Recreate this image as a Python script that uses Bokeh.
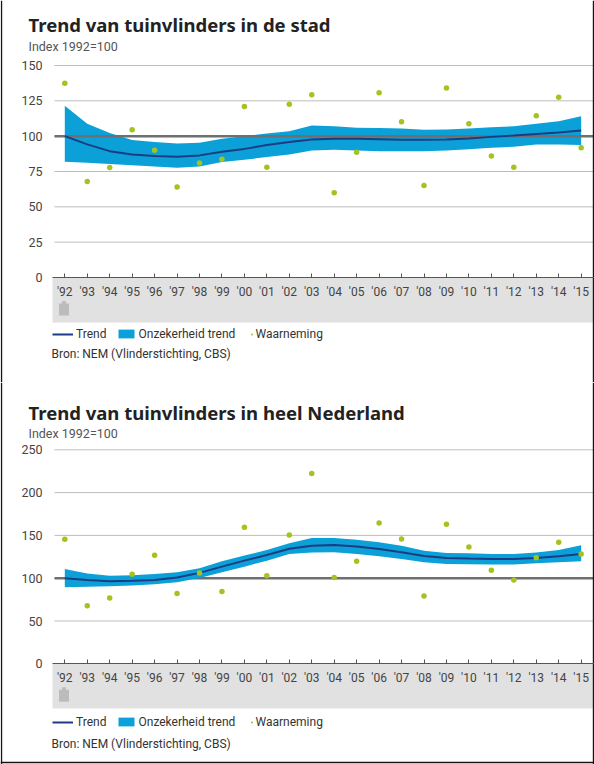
from bokeh.plotting import figure
from bokeh.models import Range1d, FixedTicker, Label, Legend, LegendItem
from bokeh.layouts import column
from bokeh.embed import file_html
from bokeh.resources import INLINE

# ---------------- data ----------------
years = list(range(1992, 2016))
year_labels = ["'92", "'93", "'94", "'95", "'96", "'97", "'98", "'99", "'00", "'01", "'02", "'03",
               "'04", "'05", "'06", "'07", "'08", "'09", "'10", "'11", "'12", "'13", "'14", "'15"]

stad_obs = [137.5, 68, 77.8, 104.5, 90, 64, 81, 83.7, 121, 78, 122.6, 129.3,
            60, 88.7, 130.7, 110.2, 65.1, 134, 108.8, 85.9, 78, 114.4, 127.6, 91.8]
stad_trend = [100, 94.2, 89.4, 87, 86, 85.5, 86.4, 89, 91, 93.7, 95.8, 97.7,
              98.1, 98.1, 97.9, 97.4, 97.4, 97.7, 98.4, 99.5, 100.5, 101.6, 102.6, 104]
stad_upper = [121.6, 108.7, 102.3, 97.2, 95.8, 94.8, 95.3, 98.1, 100, 101.9, 103.5, 107.5,
              107, 106, 105.8, 105.4, 104.5, 104.7, 105.4, 106.3, 107, 108.7, 110.6, 114.1]
stad_lower = [81.9, 81.2, 80.3, 79.4, 78.6, 77.7, 78.6, 81.7, 83.3, 85.2, 87.1, 89.9,
              90.4, 89.9, 89.4, 89.4, 89.4, 89.9, 90.8, 91.8, 92.5, 94.1, 94.1, 93.7]

nl_obs = [145.4, 67.7, 77, 104.6, 126.7, 82, 106, 84.4, 159.4, 103, 150.5, 222.4,
          100.7, 119.7, 164.5, 145.8, 79.3, 162.9, 136.5, 109.2, 98, 124, 141.9, 128.4]
nl_trend = [100, 98, 96.4, 96.9, 98, 100.7, 106.2, 113.5, 120.5, 127.2, 134.5, 138,
            138.8, 136.9, 134.2, 130.2, 126, 123.7, 122.9, 122.5, 122.5, 123.7, 125.6, 128.4]
nl_upper = [110.8, 105.4, 103, 103.5, 104.8, 107, 111.6, 119.7, 126.4, 133, 140.7, 147,
            147, 145, 141.9, 138, 132.2, 129.5, 129.1, 128.4, 128.4, 130, 133, 138.4]
nl_lower = [89.5, 90, 90.5, 91.5, 93, 95.2, 100.3, 106.9, 113.5, 120.5, 128.4, 129.9,
            130.3, 128.4, 125.6, 122.5, 118.6, 116.7, 116.3, 115.9, 115.9, 117.4, 118.6, 119.7]

stad_ticks = [0, 25, 50, 75, 100, 125, 150]
nl_ticks = [0, 50, 100, 150, 200, 250]
reference = 100

title_stad = "Trend van tuinvlinders in de stad"
title_nl = "Trend van tuinvlinders in heel Nederland"
subtitle = "Index 1992=100"
source = "Bron: NEM (Vlinderstichting, CBS)"
lbl_trend = "Trend"
lbl_band = "Onzekerheid trend"
lbl_obs = "Waarneming"

# ---------------- style / layout ----------------
C_BAND = "#0ba1d8"
C_TREND = "#1b3c83"
C_OBS = "#a4c31e"
C_REF = "#6f6f6f"
C_GRID = "#bcbcbc"
C_GRAY = "#e1e1e1"
C_BORDER = "#151515"
FONT = "Roboto"

FIG_W = 594
FIRST_TICK_PX = 64.3      # pixel position of the first year tick
PX_PER_YEAR = 22.45
AXIS_PX = 52              # where the plotting area begins (left)
GRID_PX = 54              # where grid lines begin


def px_to_year(px):
    return years[0] + (px - FIRST_TICK_PX) / PX_PER_YEAR


def add_legend(p, renderer, label, x, y, gw, gh, standoff=3):
    lg = Legend(items=[LegendItem(label=label, renderers=[renderer])],
                location=(x, y), orientation="horizontal",
                glyph_width=gw, glyph_height=gh, label_height=gh,
                label_standoff=standoff, padding=0, margin=0, spacing=0,
                border_line_color=None, background_fill_alpha=0,
                label_text_font=FONT, label_text_font_size="12px",
                label_text_color="#333333")
    p.add_layout(lg)


def make_chart(title, obs, trend, upper, lower, ticks, fig_h, zero_px, px_per_unit,
               band_px, ref_over_band, title_y, sub_y, legend_y, source_y, bottom_border):
    y_start = -(fig_h - zero_px) / px_per_unit
    y_end = zero_px / px_per_unit
    x_start = px_to_year(0)
    x_end = px_to_year(FIG_W)
    x_axis = px_to_year(AXIS_PX)
    x_grid = px_to_year(GRID_PX)

    p = figure(width=FIG_W, height=fig_h, output_backend="svg", toolbar_location=None,
               x_range=Range1d(x_start, x_end), y_range=Range1d(y_start, y_end),
               min_border_left=0, min_border_right=0, min_border_top=0,
               min_border_bottom=0, outline_line_color=None,
               background_fill_color="white", border_fill_color="white")
    p.xgrid.visible = False
    p.ygrid.visible = False

    # grid lines from the tick values
    p.segment(x0=[x_grid] * len(ticks), x1=[x_end] * len(ticks), y0=ticks, y1=ticks,
              line_color=C_GRID, line_width=1)

    # grey band under the x axis
    p.quad(left=[x_axis], right=[x_end], bottom=[-band_px / px_per_unit], top=[0],
           fill_color=C_GRAY, line_color=None)
    # small icon in the grey band
    icon_x = px_to_year(63.5)
    icon_y = -32 / px_per_unit
    p.rect(x=[icon_x], y=[icon_y], width=10, height=12, width_units="screen",
           height_units="screen", fill_color="#bcbcbc", line_color=None)
    p.rect(x=[icon_x], y=[icon_y + 7 / px_per_unit], width=4, height=3, width_units="screen",
           height_units="screen", fill_color="#bcbcbc", line_color=None)

    def ref_line():
        p.segment(x0=[x_grid], x1=[x_end], y0=[reference], y1=[reference],
                  line_color=C_REF, line_width=2.5)

    if not ref_over_band:
        ref_line()
    band = p.varea(x=years, y1=lower, y2=upper, fill_color=C_BAND)
    if ref_over_band:
        ref_line()
    line = p.line(years, trend, line_color=C_TREND, line_width=2)
    pts = p.scatter(years, obs, size=5.5, fill_color=C_OBS, line_color=None)

    # image frame (left, right, bottom)
    p.vspan(x=[px_to_year(0.7), px_to_year(593.3)], line_color=C_BORDER, line_width=1.4)
    if bottom_border:
        p.hspan(y=[y_start + 1.7 / px_per_unit], line_color=C_BORDER, line_width=1.6)

    # y axis
    ya = p.yaxis[0]
    ya.fixed_location = x_axis
    ya.ticker = FixedTicker(ticks=ticks)
    ya.axis_line_color = None
    ya.major_tick_line_color = None
    ya.minor_tick_line_color = None
    ya.major_label_standoff = 4
    ya.major_label_text_font = FONT
    ya.major_label_text_font_size = "12.5px"
    ya.major_label_text_color = "#444444"

    # x axis
    xa = p.xaxis[0]
    xa.fixed_location = 0
    xa.bounds = (x_axis, x_end)
    xa.ticker = FixedTicker(ticks=years)
    xa.major_label_overrides = dict(zip(years, year_labels))
    xa.axis_line_color = "#555555"
    xa.major_tick_line_color = "#555555"
    xa.major_tick_in = 4
    xa.major_tick_out = 0
    xa.minor_tick_line_color = None
    xa.major_label_standoff = 7
    xa.major_label_text_font = FONT
    xa.major_label_text_font_size = "12px"
    xa.major_label_text_color = "#444444"

    # titles and source
    p.add_layout(Label(x=28, y=title_y, x_units="screen", y_units="screen", text=title,
                       text_font="Noto Sans", text_font_style="bold", text_font_size="18.5px",
                       text_color="#222222", text_baseline="middle"))
    p.add_layout(Label(x=28, y=sub_y, x_units="screen", y_units="screen", text=subtitle,
                       text_font=FONT, text_font_size="12.5px", text_color="#555555",
                       text_baseline="middle"))
    p.add_layout(Label(x=51, y=source_y, x_units="screen", y_units="screen", text=source,
                       text_font=FONT, text_font_size="12px", text_color="#333333",
                       text_baseline="middle"))

    # legend
    add_legend(p, line, lbl_trend, 52, legend_y, 21, 14)
    add_legend(p, band, lbl_band, 115.5, legend_y, 20, 11)
    add_legend(p, pts, lbl_obs, 248.5, legend_y, 5, 14, standoff=2)
    return p


p1 = make_chart(title_stad, stad_obs, stad_trend, stad_upper, stad_lower, stad_ticks,
                fig_h=382, zero_px=277, px_per_unit=212 / 150, band_px=45,
                ref_over_band=True, title_y=357.8, sub_y=336, legend_y=41.5, source_y=29,
                bottom_border=False)
p2 = make_chart(title_nl, nl_obs, nl_trend, nl_upper, nl_lower, nl_ticks,
                fig_h=382, zero_px=281.3, px_per_unit=214 / 250, band_px=44.7,
                ref_over_band=False, title_y=351.6, sub_y=331.2, legend_y=35.3, source_y=21,
                bottom_border=True)

layout = column(p1, p2)
open("out.html", "w").write(file_html(layout, INLINE))
